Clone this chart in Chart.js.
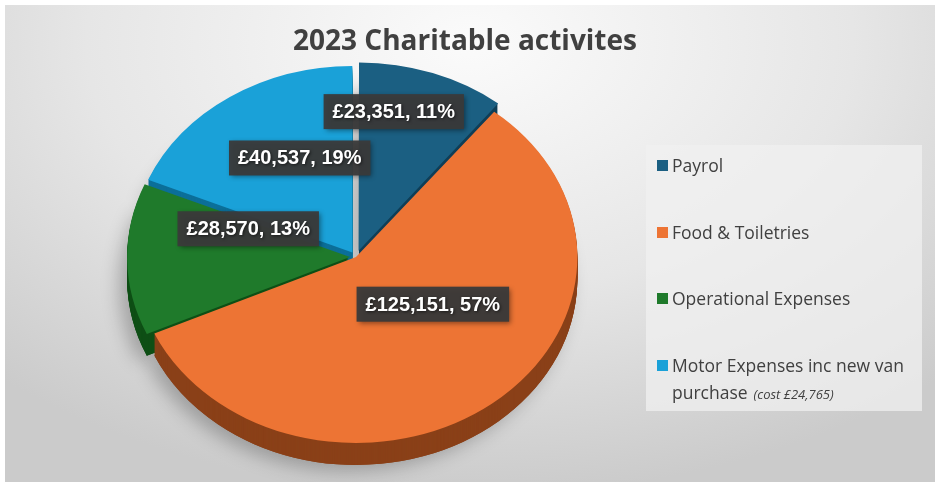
<!DOCTYPE html>
<html>
<head>
<meta charset="utf-8">
<script src="https://cdn.jsdelivr.net/npm/chart.js@4.4.0/dist/chart.umd.min.js"></script>
<style>
  html, body { margin: 0; padding: 0; background: #fff; }
  #wrap {
    position: absolute; left: 5px; top: 5px; width: 930px; height: 477px;
    background: radial-gradient(ellipse 75% 95% at 50% 8%, #fbfbfb 0%, #e6e6e6 55%, #cbcbcb 100%);
  }
  canvas { position: absolute; left: 0; top: 0; }
  #title {
    position: absolute; left: 0; top: 15px; width: 920px; text-align: center;
    font-family: "Open Sans", sans-serif; font-weight: bold; font-size: 28px; color: #404040;
  }
  #legend {
    position: absolute; left: 641px; top: 140px; width: 276px; height: 266px;
    background: rgba(240,240,240,0.75);
    font-family: "Open Sans", sans-serif; font-size: 17.5px; color: #404040;
  }
  #legend .item { position: absolute; left: 26px; line-height: 27px; }
  #legend .box { position: absolute; left: -15px; top: 8px; width: 11px; height: 11px; }
  #legend .note { font-style: italic; font-size: 13px; margin-left: 6px; }
</style>
</head>
<body>
<div id="wrap">
  <canvas id="myChart" width="930" height="477"></canvas>
  <div id="title">2023 Charitable activites</div>
  <div id="legend"></div>
</div>
<script>
const categories = ['Payrol', 'Food & Toiletries', 'Operational Expenses', 'Motor Expenses inc new van purchase']
const amounts = [23351, 125151, 28570, 40537]
const percents = [11, 57, 13, 19]
const noteText = '(cost £24,765)'

const colors = ['#1b5f82', '#ed7434', '#1f7a2b', '#1aa1d8']
const sideColors = ['#0f3e57', '#8a4018', '#0f4f16', '#0c6f99']
const explode = [26, 0, 20, 22]
// label placement: fraction of radius, angle nudge (deg)
const labelFrac = [0.8, 0.43, 0.51, 0.59]
const labelNudge = [-7, -16, 18, 8]

const SX = 1.19
const DEPTH = 22

const fmt = v => '£' + v.toLocaleString('en-GB')

function arcPath(ctx, a, dy) {
  const p = a.getProps(['x', 'y', 'startAngle', 'endAngle', 'outerRadius'])
  const off = (a.options.offset || 0) / 4
  const mid = (p.startAngle + p.endAngle) / 2
  const circ = p.endAngle - p.startAngle
  const fix = 1 - Math.sin(Math.min(Math.PI, circ))
  const o = off + off * fix
  const cx = p.x + Math.cos(mid) * o
  const cy = p.y + Math.sin(mid) * o + dy
  ctx.beginPath()
  ctx.moveTo(cx, cy)
  ctx.arc(cx, cy, p.outerRadius, p.startAngle, p.endAngle)
  ctx.closePath()
}

const pie3d = {
  id: 'pie3d',
  beforeDatasetsDraw(chart) {
    const ctx = chart.ctx
    const arcs = chart.getDatasetMeta(0).data
    const cx = arcs[0].x, cy = arcs[0].y
    ctx.save()
    ctx.translate(cx, cy)
    ctx.scale(SX, 1)
    ctx.translate(-cx, -cy)
    // soft shadow
    ctx.save()
    ctx.shadowColor = 'rgba(0,0,0,0.25)'
    ctx.shadowBlur = 18
    ctx.shadowOffsetX = -8
    ctx.shadowOffsetY = 6
    arcs.forEach((a, i) => { ctx.fillStyle = sideColors[i]; arcPath(ctx, a, DEPTH); ctx.fill() })
    ctx.restore()
    for (let d = DEPTH; d > 0; d--) {
      arcs.forEach((a, i) => { ctx.fillStyle = sideColors[i]; arcPath(ctx, a, d); ctx.fill() })
    }
  },
  afterDatasetsDraw(chart) {
    const ctx = chart.ctx
    ctx.restore()
    const arcs = chart.getDatasetMeta(0).data
    ctx.save()
    ctx.font = 'bold 20px "Liberation Sans", Arial, sans-serif'
    ctx.textAlign = 'center'
    ctx.textBaseline = 'middle'
    arcs.forEach((a, i) => {
      const p = a.getProps(['x', 'y', 'startAngle', 'endAngle', 'outerRadius'])
      const mid = (p.startAngle + p.endAngle) / 2 + labelNudge[i] * Math.PI / 180
      const r = p.outerRadius * labelFrac[i]
      const lx = p.x + Math.cos(mid) * r * SX
      const ly = p.y + Math.sin(mid) * r
      const txt = fmt(amounts[i]) + ', ' + percents[i] + '%'
      const w = ctx.measureText(txt).width + 18
      const h = 35
      ctx.save()
      ctx.shadowColor = 'rgba(0,0,0,0.45)'
      ctx.shadowBlur = 5
      ctx.shadowOffsetX = 2
      ctx.shadowOffsetY = 2
      ctx.fillStyle = 'rgba(58,58,58,0.95)'
      ctx.fillRect(lx - w / 2, ly - h / 2, w, h)
      ctx.restore()
      ctx.save()
      ctx.shadowColor = 'rgba(0,0,0,0.6)'
      ctx.shadowBlur = 3
      ctx.shadowOffsetX = 1
      ctx.shadowOffsetY = 1
      ctx.fillStyle = '#ffffff'
      ctx.fillText(txt, lx, ly + 1)
      ctx.restore()
    })
    ctx.restore()
  }
}

let ctx = document.getElementById('myChart').getContext('2d')
let chart = new Chart(ctx, {
  type: 'pie',
  data: {
    labels: categories,
    datasets: [{
      data: amounts,
      backgroundColor: colors,
      borderWidth: 0,
      offset: explode,
      radius: 186
    }]
  },
  options: {
    responsive: false,
    animation: false,
    events: [],
    layout: { padding: { left: 0, right: 228, top: 27, bottom: 0 } },
    plugins: {
      legend: { display: false },
      tooltip: { enabled: false },
      title: { display: false }
    }
  },
  plugins: [pie3d]
})

// Legend
const legend = document.getElementById('legend')
const legendTops = [7, 74, 140, 207]
categories.forEach((c, i) => {
  const el = document.createElement('div')
  el.className = 'item'
  el.style.top = legendTops[i] + 'px'
  let html = '<span class="box" style="background:' + colors[i] + '"></span>'
  if (i === 3) {
    html += 'Motor Expenses inc new van<br>purchase<span class="note">' + noteText + '</span>'
  } else {
    html += c
  }
  el.innerHTML = html
  legend.appendChild(el)
})
</script>
</body>
</html>
